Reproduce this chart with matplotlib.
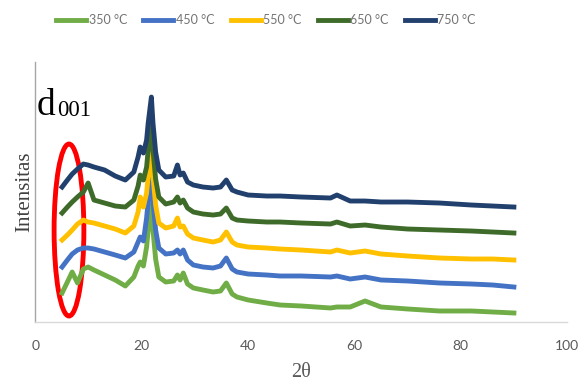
import matplotlib
matplotlib.use("Agg")
import matplotlib.pyplot as plt
from matplotlib.patches import Ellipse

# 2-theta positions (degrees)
two_theta = [5.0, 6.0, 6.9, 7.9, 9.0, 9.9, 11.0, 13.0, 15.0, 16.9, 18.5, 19.3, 19.7, 20.3,
             20.9, 21.2, 21.8, 22.1, 22.6, 23.2, 24.5, 26.0, 26.7, 27.2, 27.8, 28.6, 29.7,
             31.5, 33.4, 34.8, 35.9, 37.0, 37.9, 40.0, 43.5, 46.0, 50.0, 55.5, 56.7, 59.2,
             62.0, 65.0, 70.0, 76.0, 82.0, 86.0, 90.0]

# Intensities (arbitrary units, stacked as in the picture)
i_350 = [29, 40, 50, 39, 53, 55, 52, 47, 42, 36, 45, 56, 60, 56,
         75, 92, 117, 92, 63, 45, 40, 41, 47, 42, 49, 38, 34,
         32, 30, 31, 39, 28, 25, 22, 19, 17, 16, 14, 15, 15,
         21, 15, 13, 11, 11, 10, 9]
i_450 = [55, 62, 68, 72, 74, 74, 73, 70, 67, 64, 70, 80, 85, 81,
         104, 121, 144, 121, 92, 74, 68, 69, 72, 68, 72, 62, 57,
         55, 54, 56, 64, 53, 50, 48, 47, 46, 46, 45, 46, 43,
         45, 42, 41, 39, 38, 37, 35]
i_550 = [82, 87, 92, 98, 102, 100, 99, 96, 93, 89, 96, 110, 125, 115,
         129, 146, 171, 146, 117, 99, 94, 96, 104, 95, 96, 88, 84,
         82, 80, 82, 90, 80, 77, 75, 74, 73, 72, 70, 72, 69,
         71, 68, 66, 64, 63, 63, 62]
i_650 = [109, 115, 120, 125, 130, 139, 122, 119, 116, 115, 122, 136, 147, 142,
         155, 172, 198, 172, 143, 125, 118, 120, 125, 119, 122, 114, 110,
         108, 107, 108, 114, 104, 102, 101, 100, 100, 99, 98, 100, 96,
         97, 95, 93, 92, 91, 90, 89]
i_750 = [135, 142, 148, 153, 158, 157, 155, 152, 146, 142, 150, 165, 175, 169,
         182, 199, 225, 199, 170, 152, 145, 146, 157, 147, 149, 140, 137,
         135, 134, 135, 142, 132, 130, 127, 126, 126, 125, 124, 127, 121,
         121, 120, 120, 119, 117, 116, 115]

series = [("350 °C", i_350, "#70AD47"),
          ("450 °C", i_450, "#4472C4"),
          ("550 °C", i_550, "#FFC000"),
          ("650 °C", i_650, "#3F6B2A"),
          ("750 °C", i_750, "#22406E")]

x_ticks = [0, 20, 40, 60, 80, 100]

fig = plt.figure(figsize=(5.81, 3.83), dpi=100)
ax = fig.add_axes([0.0611, 0.1593, 0.9149, 0.6787])

for label, vals, col in series:
    ax.plot(two_theta, vals, color=col, lw=3.5, label=label, solid_joinstyle="round")

ax.set_xlim(0, 100)
ax.set_ylim(0, 260)
ax.set_xticks(x_ticks)
ax.set_yticks([])
ax.tick_params(axis="x", length=0, pad=13, labelsize=10, labelcolor="#595959")
for lab in ax.get_xticklabels():
    lab.set_fontfamily("Lato")
for s in ["top", "right"]:
    ax.spines[s].set_visible(False)
ax.spines["left"].set_color("#A6A6A6")
ax.spines["bottom"].set_color("#D9D9D9")
ax.spines["left"].set_linewidth(1.0)
ax.spines["bottom"].set_linewidth(1.0)

ax.set_xlabel("2θ", family="Liberation Serif", fontsize=14.5, color="#595959", labelpad=8)
ax.set_ylabel("Intensitas", family="Liberation Serif", fontsize=15, color="#404040", labelpad=1)

# red ellipse marking the d001 reflection
ell = Ellipse((6.3, 92), width=5.6, height=172, fill=False, edgecolor="#FF0000", lw=3.5)
ax.add_patch(ell)

fig.text(37 / 581, 1 - 115 / 383, "d", family="Liberation Serif", fontsize=27, color="black",
         ha="left", va="baseline")
fig.text(57 / 581, 1 - 116 / 383, "001", family="Liberation Serif", fontsize=16.5, color="black",
         ha="left", va="baseline")

leg = fig.legend(loc="center", bbox_to_anchor=(0.458, 0.948), ncol=5, frameon=False,
                 handlelength=2.4, handletextpad=0.2, columnspacing=1.3,
                 prop={"family": "Lato", "size": 9})
for t in leg.get_texts():
    t.set_color("#737373")

fig.savefig("out.png", dpi=100)
